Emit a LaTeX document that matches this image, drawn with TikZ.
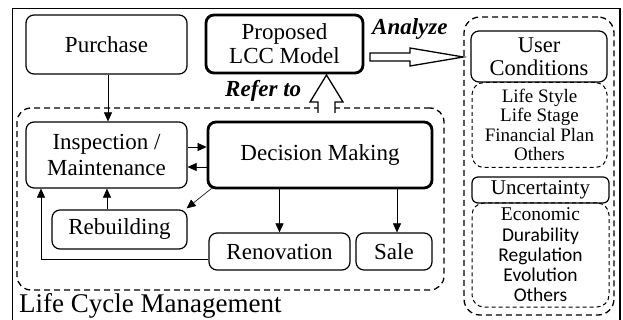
\documentclass[tikz,border=0pt]{standalone}
\usepackage{fontspec}
\IfFontExistsTF{LiberationSerif-Regular.ttf}{%
  \setmainfont{LiberationSerif}[Extension=.ttf,
    UprightFont=*-Regular, BoldFont=*-Bold,
    ItalicFont=*-Italic, BoldItalicFont=*-BoldItalic]}{%
  \setmainfont{Liberation Serif}}
\newfontfamily\sanscal{Carlito}
\usetikzlibrary{arrows.meta,calc}

\tikzset{
  box/.style={draw, rounded corners=8pt, line width=1.2pt, inner sep=0pt,
    align=center, font=\fontsize{23}{24}\selectfont},
  thickbox/.style={box, line width=2.8pt},
  dashbox/.style={draw, rounded corners=14pt, line width=1.3pt,
    dash pattern=on 6pt off 4pt, inner sep=0pt},
  listbox/.style={draw, rounded corners=12pt, line width=1pt,
    dash pattern=on 4pt off 3pt, inner sep=0pt, align=center},
  flow/.style={-{Triangle[length=9pt,width=8pt]}, line width=0.6pt},
  hollow/.style={draw, line width=1.3pt, fill=white, line join=miter},
  tag/.style={font=\fontsize{23}{24}\selectfont\bfseries\itshape, inner sep=0pt}
}

\begin{document}
\begin{tikzpicture}[x=1pt,y=-1pt]
\useasboundingbox (0,0) rectangle (623,320);

% outer frame (runs past the lower edge)
\begin{scope}
  \clip (0,0) rectangle (623,320);
  \draw[line width=1.3pt] (12.5,8.5) rectangle (620,340);
\end{scope}

% life cycle management region
\node[dashbox, minimum width=427pt, minimum height=182pt] (lcm) at (230.5,199) {};
\node[anchor=base west, inner sep=0pt, font=\fontsize{27}{28}\selectfont] (lcmlabel) at (19,312) {Life Cycle Management};

% user-side region
\node[dashbox, rounded corners=16pt, minimum width=150pt, minimum height=298pt] (userside) at (539,166) {};

% main boxes
\node[box, minimum width=161pt, minimum height=59pt] (purchase) at (106.5,44.5) {Purchase};
\node[thickbox, minimum width=157pt, minimum height=58pt] (lcc) at (284.5,44) {Proposed\\LCC Model};
\node[box, minimum width=161pt, minimum height=66pt] (inspect) at (106.5,155) {Inspection /\\[2pt]Maintenance};
\node[thickbox, minimum width=224pt, minimum height=66pt] (decision) at (320,155) {Decision Making};
\node[box, minimum width=135pt, minimum height=39pt] (rebuild) at (119.5,229.5) {Rebuilding};
\node[box, minimum width=141pt, minimum height=37pt] (renov) at (279.5,251.5) {Renovation};
\node[box, minimum width=76pt, minimum height=37pt] (sale) at (394,251.5) {Sale};

% user conditions and uncertainty
\node[box, minimum width=136pt, minimum height=51pt, font=\fontsize{22.5}{23}\selectfont] (user) at (539,56.5) {User\\Conditions};
\node[listbox, minimum width=135pt, minimum height=85pt, font=\fontsize{19}{19.5}\selectfont] (factors) at (539.5,125)
  {Life Style\\Life Stage\\Financial Plan\\Others};
\node[box, rounded corners=6pt, minimum width=137pt, minimum height=26pt, font=\fontsize{21}{22}\selectfont] (uncert) at (540.5,190) {Uncertainty};
\node[listbox, minimum width=137pt, minimum height=104pt, font=\fontsize{19.5}{20.2}\selectfont] (risks) at (540.5,255)
  {Economic\\{\sanscal Durability}\\{\sanscal Regulation}\\{\sanscal Evolution}\\{\sanscal Others}};

% labels on the hollow arrows
\node[tag, anchor=base west] (analyze) at (372,35) {Analyze};
\node[tag, anchor=base west] (referto) at (225,97) {Refer to};

% hollow arrow into the user-side region
\draw[hollow] (370,53) -- (410,53) -- (410,48) -- (userside.west |- 0,57) -- (410,66) -- (410,61) -- (370,61) -- cycle;
% hollow arrow up to the model
\draw[hollow] (318,113) -- (318,102) -- (310,102) -- (326.5,75) -- (343,102) -- (335,102) -- (335,113);

% flow connectors
\draw[flow] (purchase.south -| 108,0) -- (inspect.north -| 108,0);
\draw[flow] (inspect.east |- 0,147) -- (decision.west |- 0,147);
\draw[flow] (decision.west |- 0,167) -- (inspect.east |- 0,167);
\draw[flow] (rebuild.north -| 107,0) -- (inspect.south -| 107,0);
\draw[flow] ($(decision.south west)+(5,-1)$) -- ($(rebuild.north east)+(-1,-1)$);
\draw[flow] (decision.south -| renov.north) -- (renov.north);
\draw[flow] (decision.south -| 397,0) -- (sale.north -| 397,0);
\draw[flow] (renov.west |- 0,259) -| (inspect.south -| 41,0);
\end{tikzpicture}
\end{document}
